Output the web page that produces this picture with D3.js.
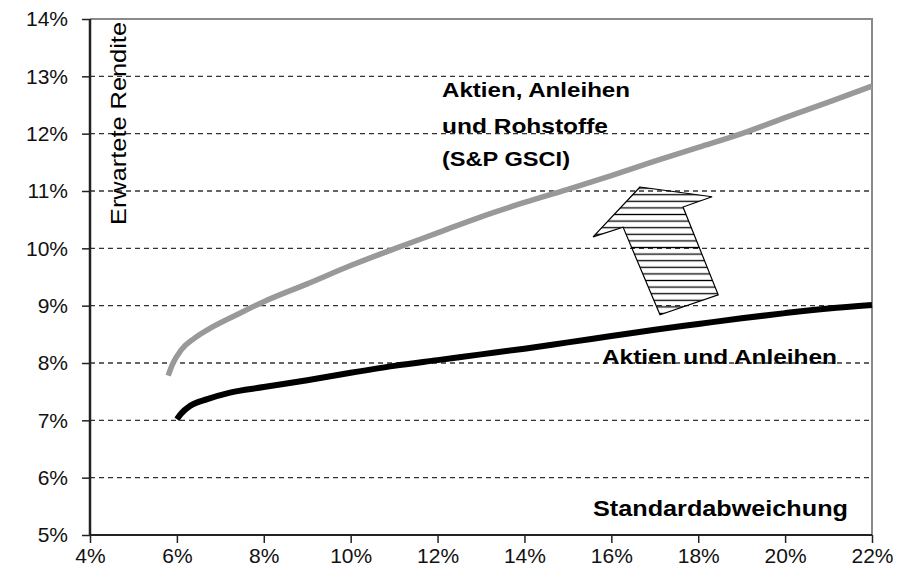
<!DOCTYPE html>
<html>
<head>
<meta charset="utf-8">
<script src="https://cdn.jsdelivr.net/npm/d3@7"></script>
<style>
  body { margin: 0; background: #fff; }
  svg { display: block; font-family: "Liberation Sans", Arial, sans-serif; }
</style>
</head>
<body>
<svg id="chart" width="907" height="576"></svg>
<script>
// Werte (Standardabweichung in %, Rendite in %)
const xTicks = [4, 6, 8, 10, 12, 14, 16, 18, 20, 22];
const yTicks = [5, 6, 7, 8, 9, 10, 11, 12, 13, 14];

const rohstoffeRisk   = [5.8, 5.9, 6.1, 6.4, 6.8, 7.4, 8, 9, 10, 11, 12, 13, 14, 15, 16, 17, 18, 19, 20, 21, 22];
const rohstoffeReturn = [7.78, 7.98, 8.23, 8.43, 8.62, 8.85, 9.07, 9.38, 9.7, 9.99, 10.27, 10.55, 10.8, 11.03, 11.27, 11.52, 11.76, 12.0, 12.28, 12.55, 12.83];

const basisRisk   = [6.0, 6.1, 6.3, 6.7, 7.2, 8, 9, 10, 11, 12, 13, 14, 15, 16, 17, 18, 19, 20, 21, 22];
const basisReturn = [7.02, 7.12, 7.25, 7.37, 7.48, 7.58, 7.7, 7.83, 7.95, 8.05, 8.15, 8.25, 8.36, 8.47, 8.58, 8.68, 8.78, 8.87, 8.95, 9.01];

// Pfeil (Ecken in Achseneinheiten)
const arrowX = [16.66, 18.32, 17.65, 18.46, 17.12, 16.27, 15.58];
const arrowY = [11.07, 10.90, 10.72, 9.19, 8.84, 10.37, 10.20];

const svg = d3.select("#chart");

const x = d3.scaleLinear().domain([4, 22]).range([90, 872]);
const y = d3.scaleLinear().domain([5, 14]).range([535, 19]);

// Schraffur fuer den Pfeil
const defs = svg.append("defs");
defs.append("pattern")
  .attr("id", "hatch")
  .attr("patternUnits", "userSpaceOnUse")
  .attr("width", 10)
  .attr("height", 6.6)
  .append("line")
  .attr("x1", 0).attr("x2", 10)
  .attr("y1", 3.3).attr("y2", 3.3)
  .attr("stroke", "#000")
  .attr("stroke-width", 1.3);

// Gitterlinien
svg.append("g")
  .selectAll("line")
  .data(yTicks.filter(d => d > 5 && d < 14))
  .join("line")
  .attr("x1", x(4)).attr("x2", x(22))
  .attr("y1", d => y(d)).attr("y2", d => y(d))
  .attr("stroke", "#333")
  .attr("stroke-width", 1.3)
  .attr("stroke-dasharray", "5,4");

// Rahmen oben und rechts
svg.append("path")
  .attr("d", `M${x(4)},${y(14)}H${x(22)}V${y(5)}`)
  .attr("fill", "none")
  .attr("stroke", "#8a8a8a")
  .attr("stroke-width", 2);

// Achsen
const xAxis = d3.axisBottom(x)
  .tickValues(xTicks)
  .tickSize(8)
  .tickFormat(d => d + "%");
const gx = svg.append("g")
  .attr("transform", `translate(0,${y(5)})`)
  .call(xAxis);
gx.select(".domain").remove();
gx.selectAll(".tick line").attr("stroke", "#222").attr("stroke-width", 1.5);
gx.selectAll(".tick text")
  .attr("dy", "0.82em")
  .attr("font-size", 21)
  .attr("fill", "#111")
  .style("font-family", "Liberation Sans, Arial, sans-serif");

const yAxis = d3.axisLeft(y)
  .tickValues(yTicks)
  .tickSize(8)
  .tickPadding(14)
  .tickFormat(d => d + "%");
const gy = svg.append("g")
  .attr("transform", `translate(${x(4)},0)`)
  .call(yAxis);
gy.select(".domain").remove();
gy.selectAll(".tick line").attr("stroke", "#222").attr("stroke-width", 1.5);
gy.selectAll(".tick text")
  .attr("font-size", 21)
  .attr("fill", "#111")
  .style("font-family", "Liberation Sans, Arial, sans-serif");

svg.append("line")
  .attr("x1", x(4)).attr("x2", x(22))
  .attr("y1", y(5)).attr("y2", y(5))
  .attr("stroke", "#222").attr("stroke-width", 2);
svg.append("line")
  .attr("x1", x(4)).attr("x2", x(4))
  .attr("y1", y(14)).attr("y2", y(5))
  .attr("stroke", "#222").attr("stroke-width", 2.5);

// Kurven
const line = d3.line()
  .x(d => x(d[0]))
  .y(d => y(d[1]))
  .curve(d3.curveMonotoneX);

svg.append("path")
  .datum(rohstoffeRisk.map((r, i) => [r, rohstoffeReturn[i]]))
  .attr("d", line)
  .attr("fill", "none")
  .attr("stroke", "#999")
  .attr("stroke-width", 5.5);

svg.append("path")
  .datum(basisRisk.map((r, i) => [r, basisReturn[i]]))
  .attr("d", line)
  .attr("fill", "none")
  .attr("stroke", "#000")
  .attr("stroke-width", 6);

// Pfeil
svg.append("polygon")
  .attr("points", arrowX.map((ax, i) => x(ax) + "," + y(arrowY[i])).join(" "))
  .attr("fill", "url(#hatch)")
  .attr("stroke", "#000")
  .attr("stroke-width", 1.2);

// Beschriftungen
function label(txt, px, py, len, size, weight) {
  svg.append("text")
    .attr("x", px).attr("y", py)
    .attr("font-size", size)
    .attr("font-weight", weight)
    .attr("textLength", len)
    .attr("lengthAdjust", "spacingAndGlyphs")
    .attr("fill", "#000")
    .text(txt);
}

label("Aktien, Anleihen", 442, 97, 188, 21, "bold");
label("und Rohstoffe", 442, 133, 166, 21, "bold");
label("(S&P GSCI)", 442, 166, 128, 21, "bold");
label("Aktien und Anleihen", 602, 364, 235, 21, "bold");
label("Standardabweichung", 593, 516, 255, 22, "bold");

svg.append("text")
  .attr("transform", "translate(126,225) rotate(-90)")
  .attr("font-size", 22)
  .attr("textLength", 203)
  .attr("lengthAdjust", "spacingAndGlyphs")
  .attr("fill", "#000")
  .text("Erwartete Rendite");
</script>
</body>
</html>
